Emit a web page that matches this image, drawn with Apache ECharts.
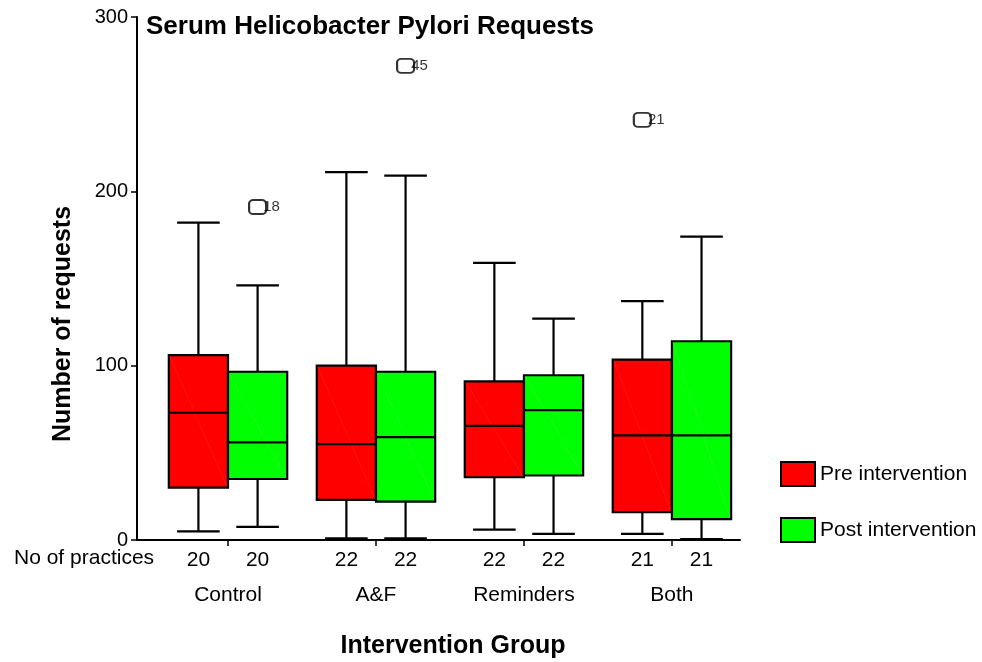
<!DOCTYPE html>
<html>
<head>
<meta charset="utf-8">
<script src="https://cdn.jsdelivr.net/npm/echarts@6/dist/echarts.min.js"></script>
<style>html,body{margin:0;padding:0;background:#fff}#c{width:982px;height:662px}</style>
</head>
<body>
<div id="c"></div>
<script>
const categories = ['Control', 'A&F', 'Reminders', 'Both'];
// [lower whisker, Q1, median, Q3, upper whisker]
const preStats = [
  [5, 30, 73, 106, 182],
  [1, 23, 55, 100, 211],
  [6, 36, 65.5, 91, 159],
  [3.5, 16, 60, 103.5, 137]
];
const postStats = [
  [7.5, 35, 56, 96.5, 146],
  [1, 22, 59, 96.5, 209],
  [3.5, 37, 74.5, 94.5, 127],
  [0.5, 12, 60, 114, 174]
];
const preCounts = [20, 22, 22, 21];
const postCounts = [20, 22, 22, 21];
const outlierCategory = [0, 1, 3];
const outlierGroup = ['post', 'post', 'pre'];
const outlierValues = [191, 272, 241];
const outlierIds = ['18', '45', '21'];

const FONT = "'Liberation Sans', Arial, sans-serif";
const OFF = 0.2, BOXW = 0.4;

function boxRender(offset, fill, diag) {
  return function (params, api) {
    const idx = api.value(0);
    const cx = api.coord([idx + offset, 0])[0];
    const w = api.size([BOXW, 0])[0];
    const capW = w * 0.72;
    const y = v => api.coord([0, v])[1];
    const lo = y(api.value(1)), q1 = y(api.value(2)), md = y(api.value(3)), q3 = y(api.value(4)), hi = y(api.value(5));
    const ls = { stroke: '#000', lineWidth: 2.2 };
    const x0 = cx - w / 2, x1 = cx + w / 2;
    return {
      type: 'group',
      children: [
        { type: 'line', shape: { x1: cx, y1: hi, x2: cx, y2: q3 }, style: ls },
        { type: 'line', shape: { x1: cx, y1: q1, x2: cx, y2: lo }, style: ls },
        { type: 'line', shape: { x1: cx - capW / 2, y1: hi, x2: cx + capW / 2, y2: hi }, style: ls },
        { type: 'line', shape: { x1: cx - capW / 2, y1: lo, x2: cx + capW / 2, y2: lo }, style: ls },
        { type: 'rect', shape: { x: x0, y: q3, width: w, height: q1 - q3 }, style: { fill: fill, stroke: '#000', lineWidth: 2.2 } },
        { type: 'line', shape: { x1: x0 + 1, y1: q3 + 1, x2: x1 - 1, y2: q1 - 1 }, style: { stroke: diag, lineWidth: 0.5 } },
        { type: 'line', shape: { x1: x0, y1: md, x2: x1, y2: md }, style: ls }
      ]
    };
  };
}

const preData = preStats.map((s, i) => [i].concat(s));
const postData = postStats.map((s, i) => [i].concat(s));
const outlierData = outlierValues.map((v, k) => [outlierCategory[k] + (outlierGroup[k] === 'pre' ? -OFF : OFF), v, outlierIds[k]]);

const countPositions = [];
const countLabels = {};
categories.forEach((c, i) => {
  const a = +(i - OFF).toFixed(2), b = +(i + OFF).toFixed(2);
  countPositions.push(a, b);
  countLabels[a] = String(preCounts[i]);
  countLabels[b] = String(postCounts[i]);
});
const catPositions = categories.map((c, i) => i);

const xMin = -0.615, xMax = 3.46;

const chart = echarts.init(document.getElementById('c'), null, { renderer: 'canvas' });
chart.setOption({
  backgroundColor: '#fff',
  animation: false,
  textStyle: { fontFamily: FONT },
  title: {
    text: 'Serum Helicobacter Pylori Requests',
    left: 141, top: 9,
    textStyle: { fontFamily: FONT, fontSize: 26, fontWeight: 'bold', color: '#000' }
  },
  grid: { left: 137, right: 242, top: 17, bottom: 122, containLabel: false },
  legend: {
    orient: 'vertical', left: 780, top: 461, padding: 0,
    itemWidth: 34, itemHeight: 24, itemGap: 30,
    textStyle: { fontFamily: FONT, fontSize: 21, color: '#000' },
    data: [
      { name: 'Pre intervention', icon: 'rect', itemStyle: { color: '#ff0000', borderColor: '#000', borderWidth: 2 } },
      { name: 'Post intervention', icon: 'rect', itemStyle: { color: '#00ff00', borderColor: '#000', borderWidth: 2 } }
    ]
  },
  xAxis: [
    {
      type: 'value', min: xMin, max: xMax,
      axisLine: { show: true, onZero: false, lineStyle: { color: '#000', width: 2 } },
      axisTick: { show: true, customValues: catPositions, length: 6, lineStyle: { color: '#000', width: 1.5 } },
      axisLabel: {
        show: true, customValues: countPositions, margin: 10,
        fontFamily: FONT, fontSize: 21, color: '#000',
        formatter: v => countLabels[+v.toFixed(2)] || ''
      },
      splitLine: { show: false }
    },
    {
      type: 'value', min: xMin, max: xMax, position: 'bottom',
      axisLine: { show: false, onZero: false }, axisTick: { show: false }, splitLine: { show: false },
      axisLabel: {
        show: true, customValues: catPositions, margin: 45,
        fontFamily: FONT, fontSize: 21, color: '#000',
        formatter: v => categories[Math.round(v)] || ''
      }
    }
  ],
  yAxis: {
    type: 'value', min: 0, max: 300, interval: 100,
    axisLine: { show: true, onZero: false, lineStyle: { color: '#000', width: 2 } },
    axisTick: { show: true, length: 6, lineStyle: { color: '#000', width: 1.5 } },
    axisLabel: { margin: 9, fontFamily: FONT, fontSize: 20, color: '#000' },
    splitLine: { show: false }
  },
  graphic: [
    { type: 'text', left: 14, top: 548, style: { text: 'No of practices', fontFamily: FONT, fontSize: 21, fill: '#000' } },
    { type: 'text', x: 63, y: 324, rotation: Math.PI / 2,
      style: { text: 'Number of requests', fontFamily: FONT, fontSize: 25, fontWeight: 'bold', fill: '#000', align: 'center', verticalAlign: 'middle' } },
    { type: 'text', x: 453, y: 646,
      style: { text: 'Intervention Group', fontFamily: FONT, fontSize: 25, fontWeight: 'bold', fill: '#000', align: 'center', verticalAlign: 'middle' } }
  ],
  series: [
    {
      name: 'Pre intervention', type: 'custom', xAxisIndex: 0,
      itemStyle: { color: '#ff0000', borderColor: '#000' },
      renderItem: boxRender(-OFF, '#ff0000', 'rgba(255,110,110,0.35)'),
      encode: { x: 0, y: [1, 2, 3, 4, 5] },
      data: preData
    },
    {
      name: 'Post intervention', type: 'custom', xAxisIndex: 0,
      itemStyle: { color: '#00ff00', borderColor: '#000' },
      renderItem: boxRender(OFF, '#00ff00', 'rgba(150,255,150,0.35)'),
      encode: { x: 0, y: [1, 2, 3, 4, 5] },
      data: postData
    },
    {
      name: 'Outliers', type: 'scatter', xAxisIndex: 0,
      symbol: 'roundRect', symbolSize: [17, 14],
      itemStyle: { color: '#fff', borderColor: '#000', borderWidth: 2 },
      label: {
        show: true, position: 'right', distance: -4,
        fontFamily: FONT, fontSize: 15, color: '#000',
        formatter: p => p.data[2]
      },
      data: outlierData
    }
  ]
});
</script>
</body>
</html>
